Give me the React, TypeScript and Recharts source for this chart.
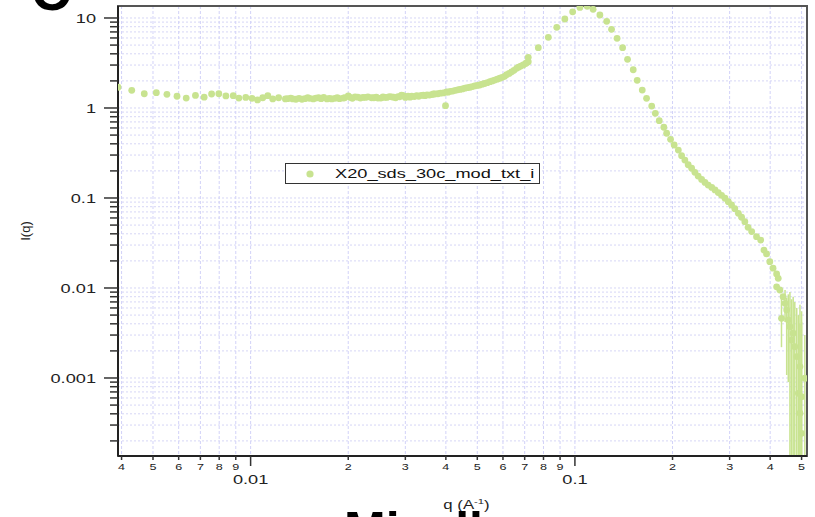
import React from 'react';
import {
  ScatterChart, Scatter, XAxis, YAxis, CartesianGrid,
  ErrorBar, Legend, ReferenceArea
} from 'recharts';

const GREEN = '#c8e390';
const FONT = '"Liberation Sans", Arial, Helvetica, sans-serif';
const SERIES = 'X20_sds_30c_mod_txt_i';

const plateauQ = [0.0039, 0.0043, 0.0047, 0.00512, 0.00552, 0.00593, 0.00633, 0.00676, 0.00719, 0.00758, 0.00798, 0.00839, 0.00884, 0.0092, 0.00966, 0.0101, 0.0105, 0.0109, 0.0113, 0.0117, 0.0122, 0.0128];
const plateauI = [1.7, 1.57, 1.44, 1.48, 1.42, 1.35, 1.29, 1.38, 1.32, 1.43, 1.44, 1.36, 1.37, 1.29, 1.31, 1.28, 1.23, 1.3, 1.37, 1.26, 1.3, 1.26];

const bandQ = [0.013, 0.0133, 0.0135, 0.0138, 0.0141, 0.0144, 0.0147, 0.015, 0.0152, 0.0156, 0.0159, 0.0162, 0.0165, 0.0168, 0.0172, 0.0175, 0.0178, 0.0182, 0.0185, 0.0188, 0.0193, 0.0195, 0.02, 0.0203, 0.0206, 0.021, 0.0214, 0.0218, 0.0222, 0.0226, 0.023, 0.0236, 0.024, 0.0244, 0.0247, 0.0252, 0.0256, 0.0259, 0.0263, 0.0268, 0.0272, 0.0276, 0.028, 0.0285, 0.0288, 0.0292, 0.0296, 0.03, 0.0303, 0.0306, 0.031, 0.0314, 0.032, 0.0325, 0.033, 0.0336, 0.0341, 0.0345, 0.035, 0.0356, 0.0362, 0.0366, 0.037, 0.0378, 0.0385, 0.0393, 0.0399];
const bandI = [1.27, 1.29, 1.26, 1.25, 1.28, 1.25, 1.27, 1.3, 1.28, 1.26, 1.29, 1.3, 1.27, 1.31, 1.26, 1.28, 1.26, 1.28, 1.3, 1.27, 1.29, 1.3, 1.36, 1.31, 1.28, 1.33, 1.32, 1.29, 1.31, 1.31, 1.33, 1.3, 1.3, 1.32, 1.29, 1.29, 1.33, 1.31, 1.31, 1.34, 1.33, 1.32, 1.3, 1.34, 1.33, 1.39, 1.37, 1.31, 1.33, 1.35, 1.32, 1.35, 1.34, 1.37, 1.35, 1.38, 1.39, 1.37, 1.4, 1.39, 1.41, 1.43, 1.43, 1.44, 1.46, 1.47, 1.06];

const upturnQ = [0.0402, 0.0406, 0.0413, 0.042, 0.0428, 0.0435, 0.0442, 0.045, 0.0458, 0.0466, 0.0475, 0.0483, 0.0491, 0.05, 0.0509, 0.0518, 0.0527, 0.0537, 0.0547, 0.0556, 0.0566, 0.0576, 0.0587, 0.0597, 0.0607, 0.0616, 0.0627, 0.0638, 0.0649, 0.0661, 0.067, 0.0681, 0.0693, 0.0705, 0.0712, 0.0718, 0.0718];
const upturnI = [1.51, 1.5, 1.53, 1.54, 1.57, 1.59, 1.61, 1.63, 1.66, 1.68, 1.7, 1.73, 1.76, 1.78, 1.8, 1.84, 1.87, 1.91, 1.96, 2.0, 2.04, 2.09, 2.14, 2.19, 2.25, 2.34, 2.42, 2.52, 2.62, 2.76, 2.84, 2.92, 3.01, 3.12, 3.2, 3.27, 3.66];

const peakQ = [0.0771, 0.0828, 0.0879, 0.0931, 0.0984, 0.1036, 0.1091, 0.1138, 0.1194, 0.1253, 0.1297, 0.1349, 0.1403, 0.1453, 0.1513, 0.1556, 0.1613, 0.1663, 0.1725, 0.177, 0.182, 0.188];
const peakI = [4.68, 6.1, 7.88, 9.75, 11.7, 13.1, 13.5, 12.5, 10.8, 9.19, 7.49, 5.95, 4.68, 3.47, 2.66, 2.03, 1.58, 1.28, 1.05, 0.873, 0.723, 0.611];

const decayQ = [0.1918, 0.1972, 0.2024, 0.2084, 0.2133, 0.2183, 0.2235, 0.2291, 0.2344, 0.2399, 0.2459, 0.2518, 0.2576, 0.2642, 0.2704, 0.2767, 0.2833, 0.2903, 0.2972, 0.3041, 0.3112, 0.3192, 0.3266, 0.3342, 0.342, 0.3508, 0.3631, 0.3741, 0.3828, 0.3899, 0.399, 0.4083, 0.4188, 0.4236, 0.4188, 0.4285, 0.4385];
const decayI = [0.524, 0.449, 0.388, 0.341, 0.295, 0.264, 0.234, 0.214, 0.193, 0.175, 0.161, 0.149, 0.139, 0.131, 0.123, 0.115, 0.107, 0.0993, 0.091, 0.0836, 0.076, 0.0676, 0.0611, 0.0546, 0.0472, 0.0423, 0.0372, 0.0341, 0.0264, 0.0239, 0.0196, 0.0166, 0.0143, 0.0128, 0.0103, 0.0095, 0.008];

// noisy high-q end, with the ends of each error bar
const tailQ = [0.4335, 0.4446, 0.4498, 0.455, 0.4603, 0.4656, 0.471, 0.4765, 0.4831, 0.4887, 0.4943, 0.4943, 0.5, 0.5, 0.5117];
const tailI = [0.0046, 0.00676, 0.0057, 0.00441, 0.00372, 0.00264, 0.00314, 0.00223, 0.00173, 0.000676, 0.00134, 0.000406, 0.00062, 0.000243, 0.000993];
const tailLow = [0.0022, 0.0042, 0.00108, 0.0009, 0.000137, 0.000137, 0.000137, 0.000137, 0.000137, 0.000137, 0.000137, 0.000137, 0.000137, 0.000137, 0.000137];
const tailHigh = [0.0079, 0.0095, 0.0078, 0.0085, 0.009, 0.0075, 0.008, 0.007, 0.006, 0.005, 0.0065, 0.004, 0.0055, 0.0042, 0.003];

const xTicks = [0.004, 0.005, 0.006, 0.007, 0.008, 0.009, 0.01, 0.02, 0.03, 0.04, 0.05, 0.06, 0.07, 0.08, 0.09, 0.1, 0.2, 0.3, 0.4, 0.5];
const yTicks = [0.0002, 0.0003, 0.0004, 0.0005, 0.0006, 0.0007, 0.0008, 0.0009, 0.001, 0.002, 0.003, 0.004, 0.005, 0.006, 0.007, 0.008, 0.009, 0.01, 0.02, 0.03, 0.04, 0.05, 0.06, 0.07, 0.08, 0.09, 0.1, 0.2, 0.3, 0.4, 0.5, 0.6, 0.7, 0.8, 0.9, 1, 2, 3, 4, 5, 6, 7, 8, 9, 10];

const Q_DOMAIN: [number, number] = [0.0039, 0.5196];
const I_DOMAIN: [number, number] = [0.0001359, 13.59];

const zip = (q: number[], i: number[]) => q.map((v, k) => ({ q: v, I: i[k] }));
const mainData = [
  ...zip(plateauQ, plateauI),
  ...zip(bandQ, bandI),
  ...zip(upturnQ, upturnI),
  ...zip(peakQ, peakI),
  ...zip(decayQ, decayI),
];
const tailData = tailQ.map((v, k) => ({
  q: v,
  I: tailI[k],
  err: [tailI[k] - tailLow[k], tailHigh[k] - tailI[k]],
}));

const isDecade = (v: number) => Math.abs(Math.log10(v) - Math.round(Math.log10(v))) < 1e-6;
const leadDigit = (v: number) => Math.round(v / Math.pow(10, Math.floor(Math.log10(v) + 1e-9)));

const XTick = ({ x, y, payload }: any) => {
  const v = payload.value;
  const major = isDecade(v);
  return (
    <g>
      <line x1={x} x2={x} y1={y} y2={y + (major ? 10 : 4)} stroke="#333" strokeWidth={1.5} />
      {major ? (
        <text transform={`translate(${x},${y + 28}) scale(1.4,1)`} textAnchor="middle"
          fontSize={13} fill="#222" fontFamily={FONT}>{String(v)}</text>
      ) : (
        <text transform={`translate(${x},${y + 14}) scale(1.4,1)`} textAnchor="middle"
          fontSize={9} fill="#222" fontFamily={FONT}>{leadDigit(v)}</text>
      )}
    </g>
  );
};

const YTick = ({ x, y, payload }: any) => {
  const v = payload.value;
  const major = isDecade(v);
  return (
    <g>
      <line x1={x - (major ? 14 : 8)} x2={x} y1={y} y2={y} stroke="#333" strokeWidth={1.5} />
      {major && (
        <text transform={`translate(${x - 22},${y + 4.6}) scale(1.4,1)`} textAnchor="end"
          fontSize={13} fill="#222" fontFamily={FONT}>{String(v)}</text>
      )}
    </g>
  );
};

const YTitle = ({ viewBox }: any) => {
  const cy = viewBox ? viewBox.y + viewBox.height / 2 : 231;
  return (
    <text transform={`translate(30,${cy}) rotate(-90)`} textAnchor="middle"
      fontSize={13} fill="#222" fontFamily={FONT}>I(q)</text>
  );
};

const XTitle = ({ viewBox }: any) => {
  const cx = viewBox ? viewBox.x + viewBox.width / 2 : 462;
  const ty = viewBox ? viewBox.y + 53 : 509;
  return (
    <text transform={`translate(${cx + 4},${ty}) scale(1.4,1)`} textAnchor="middle"
      fontSize={12} fill="#222" fontFamily={FONT}>
      q (A<tspan dy={-5} fontSize={8}>-1</tspan><tspan dy={5}>)</tspan>
    </text>
  );
};

const Dot = (p: any) => <circle cx={p.cx} cy={p.cy} r={3.4} fill={GREEN} />;

const LegendBox = (props: any) => {
  const item = (props.payload || []).find((e: any) => e.value === SERIES);
  return (
    <div style={{
      width: 255, height: 21, border: '1px solid #333', background: '#fff',
      boxSizing: 'border-box', position: 'relative', fontFamily: FONT
    }}>
      <svg width={14} height={20} style={{ position: 'absolute', left: 17, top: 0 }}>
        <circle cx={7} cy={10} r={3.6} fill={GREEN} />
      </svg>
      <span style={{
        position: 'absolute', left: 49, top: 2, fontSize: 13, lineHeight: '16px',
        transform: 'scaleX(1.4)', transformOrigin: 'left center', whiteSpace: 'nowrap', color: '#111'
      }}>{item ? item.value : SERIES}</span>
    </div>
  );
};

export default function App() {
  return (
    <div style={{ position: 'absolute', top: 0, left: 0, width: 815, height: 517, overflow: 'hidden', background: '#fff' }}>
      <ScatterChart width={815} height={517} margin={{ top: 6, right: 8, bottom: 0, left: 0 }}>
        <CartesianGrid vertical={false} stroke="#d6d6f6" strokeDasharray="2 2" />
        <CartesianGrid horizontal={false} stroke="#d2d2f8" strokeDasharray="3 2" />
        <ReferenceArea x1={Q_DOMAIN[0]} x2={Q_DOMAIN[1]} y1={I_DOMAIN[0]} y2={I_DOMAIN[1]}
          fill="none" fillOpacity={0} stroke="#555" strokeWidth={2} ifOverflow="visible" />
        <XAxis type="number" dataKey="q" scale="log" domain={Q_DOMAIN} allowDataOverflow
          ticks={xTicks} interval={0} tick={<XTick />} tickLine={false} tickSize={0} tickMargin={0}
          height={61} axisLine={{ stroke: '#222', strokeWidth: 2 }} label={<XTitle />} />
        <YAxis type="number" dataKey="I" scale="log" domain={I_DOMAIN} allowDataOverflow
          ticks={yTicks} interval={0} tick={<YTick />} tickLine={false} tickSize={0} tickMargin={0}
          width={118} axisLine={{ stroke: '#222', strokeWidth: 2 }} label={<YTitle />} />
        <Legend verticalAlign="middle" align="center" content={<LegendBox />}
          wrapperStyle={{ top: 163, left: 285, width: 255, height: 21 }} />
        <Scatter name={SERIES} data={mainData} fill={GREEN} shape={<Dot />} isAnimationActive={false} />
        <Scatter name="tail" legendType="none" data={tailData} fill={GREEN} shape={<Dot />} isAnimationActive={false}>
          <ErrorBar dataKey="err" direction="y" width={0} stroke={GREEN} strokeWidth={1.5} />
        </Scatter>
      </ScatterChart>
      <svg width={815} height={517} style={{ position: 'absolute', top: 0, left: 0, pointerEvents: 'none' }}>
        <text x={31} y={10} fontSize={55} fontWeight="bold" fontFamily={FONT} fill="#000">C</text>
        <text x={344} y={547} fontSize={50} fontWeight="bold" fontFamily={FONT} fill="#000">Micelles</text>
      </svg>
    </div>
  );
}
